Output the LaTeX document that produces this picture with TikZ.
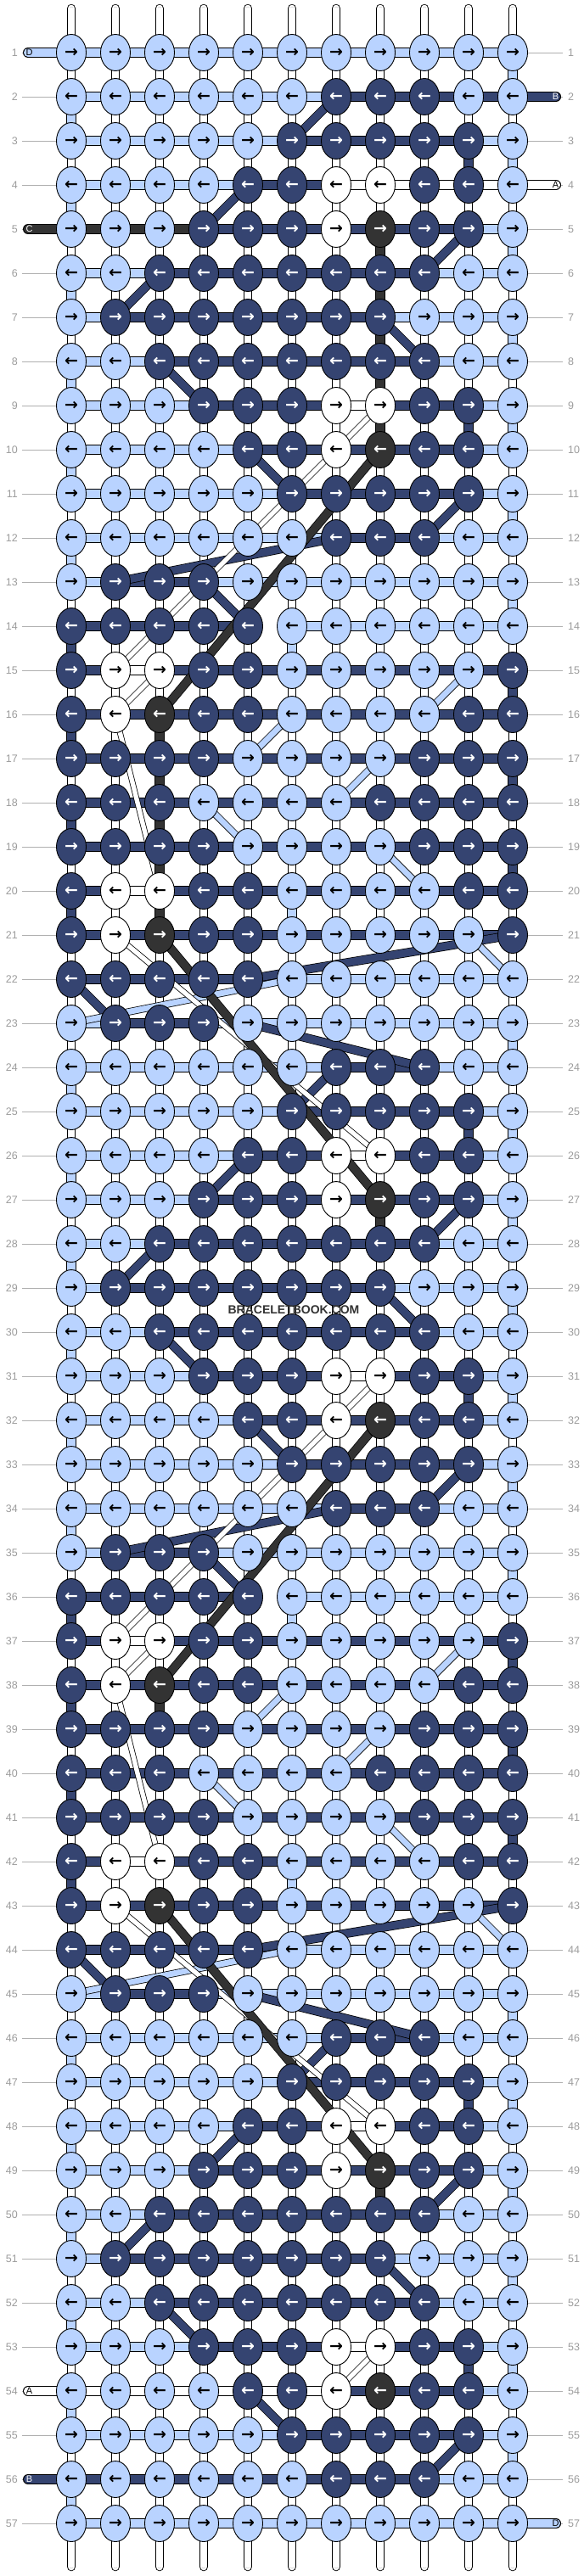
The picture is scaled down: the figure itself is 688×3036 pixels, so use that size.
\documentclass[tikz,border=0pt]{standalone}
\usepackage{fontspec}
\setmainfont{Liberation Sans}
\newfontfamily\arrowfont{DejaVu Sans}
\usetikzlibrary{shapes.geometric}

\definecolor{knotL}{HTML}{B9D3FF}
\definecolor{knotN}{HTML}{354471}
\definecolor{knotW}{HTML}{FFFFFF}
\definecolor{knotC}{HTML}{333333}
\colorlet{txtL}{black}
\colorlet{txtN}{white}
\colorlet{txtW}{black}
\colorlet{txtC}{white}
\definecolor{rowgray}{HTML}{9C9C9C}

\pgfdeclarelayer{warp}
\pgfdeclarelayer{strings}
\pgfsetlayers{warp,strings,main}

\tikzset{
  knotbox/.style={ellipse, draw=black, line width=0.9pt, minimum width=35pt,
    minimum height=43pt, inner sep=0pt,
    font={\arrowfont\bfseries\fontsize{19}{19}\selectfont}},
  barline/.style={draw=black, line width=12pt, postaction={draw=knot#1, line width=10pt}},
  diagline/.style={draw=black, line width=10.5pt, postaction={draw=knot#1, line width=9pt}},
  lightline/.style={draw=black, line width=8.5pt, postaction={draw=knotL, line width=7pt}},
  whitestrand/.style={draw=black, line width=7pt, postaction={draw=white, line width=5.4pt}},
  warptube/.style={draw=black, line width=10.5pt, line cap=round,
    postaction={draw=white, line width=8.7pt},
    postaction={draw=gray!45, line width=4.6pt},
    postaction={draw=white, line width=3.2pt}},
  rownum/.style={text=rowgray, font=\fontsize{12.5}{12.5}\selectfont, inner sep=0pt},
  rowline/.style={draw=rowgray!80, line width=0.9pt},
  tagtext/.style={font=\fontsize{11}{11}\selectfont, inner sep=0pt}
}

\def\nobar{X}
% one row: number, knot colours, colours of the strands between knots
\newcommand{\knotrow}[3]{%
  \foreach \k [count=\c] in {#2}{%
    \node[knotbox, fill=knot\k, text=txt\k] (k-#1-\c) at ({84+52*(\c-1)},{62+52*(#1-1)}) {\ifodd#1 →\else ←\fi};
  }%
  \begin{pgfonlayer}{strings}
  \foreach \b [count=\c] in {#3}{%
    \pgfmathtruncatemacro\n{\c+1}%
    \ifx\b\nobar\else\draw[barline=\b] (k-#1-\c.center) -- (k-#1-\n.center);\fi
  }%
  \end{pgfonlayer}
}

\begin{document}
\begin{tikzpicture}[x=1pt, y=-1pt]

\useasboundingbox (0,0) rectangle (688,3036);
\begin{pgfonlayer}{warp}
\fill[white] (0,0) rectangle (688,3036);
\foreach \c in {1,...,11}{
  \coordinate (wt-\c) at ({84+52*(\c-1)},10);
  \coordinate (wb-\c) at ({84+52*(\c-1)},3025);
  \draw[warptube] (wt-\c) -- (wb-\c);
}
\end{pgfonlayer}

% knots
\knotrow{1}{L,L,L,L,L,L,L,L,L,L,L}{L,L,L,L,L,L,L,L,L,L}
\knotrow{2}{L,L,L,L,L,L,N,N,N,L,L}{L,L,L,L,L,L,N,N,N,N}
\knotrow{3}{L,L,L,L,L,N,N,N,N,N,L}{L,L,L,L,L,N,N,N,N,L}
\knotrow{4}{L,L,L,L,N,N,W,W,N,N,L}{L,L,L,L,N,N,W,W,W,W}
\knotrow{5}{L,L,L,N,N,N,W,C,N,N,L}{C,C,C,N,N,N,N,N,N,L}
\knotrow{6}{L,L,N,N,N,N,N,N,N,L,L}{L,L,N,N,N,N,N,N,L,L}
\knotrow{7}{L,N,N,N,N,N,N,N,L,L,L}{L,N,N,N,N,N,N,L,L,L}
\knotrow{8}{L,L,N,N,N,N,N,N,N,L,L}{L,L,N,N,N,N,N,N,L,L}
\knotrow{9}{L,L,L,N,N,N,W,W,N,N,L}{L,L,L,N,N,N,W,N,N,L}
\knotrow{10}{L,L,L,L,N,N,W,C,N,N,L}{L,L,L,L,N,N,N,N,N,L}
\knotrow{11}{L,L,L,L,L,N,N,N,N,N,L}{L,L,L,L,L,N,N,N,N,L}
\knotrow{12}{L,L,L,L,L,L,N,N,N,L,L}{L,L,L,L,L,L,N,N,L,L}
\knotrow{13}{L,N,N,N,L,L,L,L,L,L,L}{L,N,N,L,L,L,L,L,L,L}
\knotrow{14}{N,N,N,N,N,L,L,L,L,L,L}{N,N,N,N,X,L,L,L,L,L}
\knotrow{15}{N,W,W,N,N,L,L,L,L,L,N}{N,W,N,N,N,N,N,N,N,N}
\knotrow{16}{N,W,C,N,N,L,L,L,L,N,N}{N,N,N,N,N,N,N,N,N,N}
\knotrow{17}{N,N,N,N,L,L,L,L,N,N,N}{N,N,N,N,N,N,N,N,N,N}
\knotrow{18}{N,N,N,L,L,L,L,N,N,N,N}{N,N,N,N,N,N,N,N,N,N}
\knotrow{19}{N,N,N,N,L,L,L,L,N,N,N}{N,N,N,N,N,N,N,N,N,N}
\knotrow{20}{N,W,W,N,N,L,L,L,L,N,N}{N,W,N,N,N,N,N,N,N,N}
\knotrow{21}{N,W,C,N,N,L,L,L,L,L,N}{N,N,N,N,N,N,N,N,N,N}
\knotrow{22}{N,N,N,N,N,L,L,L,L,L,L}{N,N,N,N,N,L,L,L,L,L}
\knotrow{23}{L,N,N,N,L,L,L,L,L,L,L}{L,N,N,L,L,L,L,L,L,L}
\knotrow{24}{L,L,L,L,L,L,N,N,N,L,L}{L,L,L,L,L,L,N,N,L,L}
\knotrow{25}{L,L,L,L,L,N,N,N,N,N,L}{L,L,L,L,L,N,N,N,N,L}
\knotrow{26}{L,L,L,L,N,N,W,W,N,N,L}{L,L,L,L,N,N,W,N,N,L}
\knotrow{27}{L,L,L,N,N,N,W,C,N,N,L}{L,L,L,N,N,N,N,N,N,L}
\knotrow{28}{L,L,N,N,N,N,N,N,N,L,L}{L,L,N,N,N,N,N,N,L,L}
\knotrow{29}{L,N,N,N,N,N,N,N,L,L,L}{L,N,N,N,N,N,N,L,L,L}
\knotrow{30}{L,L,N,N,N,N,N,N,N,L,L}{L,L,N,N,N,N,N,N,L,L}
\knotrow{31}{L,L,L,N,N,N,W,W,N,N,L}{L,L,L,N,N,N,W,N,N,L}
\knotrow{32}{L,L,L,L,N,N,W,C,N,N,L}{L,L,L,L,N,N,N,N,N,L}
\knotrow{33}{L,L,L,L,L,N,N,N,N,N,L}{L,L,L,L,L,N,N,N,N,L}
\knotrow{34}{L,L,L,L,L,L,N,N,N,L,L}{L,L,L,L,L,L,N,N,L,L}
\knotrow{35}{L,N,N,N,L,L,L,L,L,L,L}{L,N,N,L,L,L,L,L,L,L}
\knotrow{36}{N,N,N,N,N,L,L,L,L,L,L}{N,N,N,N,X,L,L,L,L,L}
\knotrow{37}{N,W,W,N,N,L,L,L,L,L,N}{N,W,N,N,N,N,N,N,N,N}
\knotrow{38}{N,W,C,N,N,L,L,L,L,N,N}{N,N,N,N,N,N,N,N,N,N}
\knotrow{39}{N,N,N,N,L,L,L,L,N,N,N}{N,N,N,N,N,N,N,N,N,N}
\knotrow{40}{N,N,N,L,L,L,L,N,N,N,N}{N,N,N,N,N,N,N,N,N,N}
\knotrow{41}{N,N,N,N,L,L,L,L,N,N,N}{N,N,N,N,N,N,N,N,N,N}
\knotrow{42}{N,W,W,N,N,L,L,L,L,N,N}{N,W,N,N,N,N,N,N,N,N}
\knotrow{43}{N,W,C,N,N,L,L,L,L,L,N}{N,N,N,N,N,N,N,N,N,N}
\knotrow{44}{N,N,N,N,N,L,L,L,L,L,L}{N,N,N,N,N,L,L,L,L,L}
\knotrow{45}{L,N,N,N,L,L,L,L,L,L,L}{L,N,N,L,L,L,L,L,L,L}
\knotrow{46}{L,L,L,L,L,L,N,N,N,L,L}{L,L,L,L,L,L,N,N,L,L}
\knotrow{47}{L,L,L,L,L,N,N,N,N,N,L}{L,L,L,L,L,N,N,N,N,L}
\knotrow{48}{L,L,L,L,N,N,W,W,N,N,L}{L,L,L,L,N,N,W,N,N,L}
\knotrow{49}{L,L,L,N,N,N,W,C,N,N,L}{L,L,L,N,N,N,N,N,N,L}
\knotrow{50}{L,L,N,N,N,N,N,N,N,L,L}{L,L,N,N,N,N,N,N,L,L}
\knotrow{51}{L,N,N,N,N,N,N,N,L,L,L}{L,N,N,N,N,N,N,L,L,L}
\knotrow{52}{L,L,N,N,N,N,N,N,N,L,L}{L,L,N,N,N,N,N,N,L,L}
\knotrow{53}{L,L,L,N,N,N,W,W,N,N,L}{L,L,L,N,N,N,W,N,N,L}
\knotrow{54}{L,L,L,L,N,N,W,C,N,N,L}{W,W,W,W,W,W,N,N,N,L}
\knotrow{55}{L,L,L,L,L,N,N,N,N,N,L}{L,L,L,L,L,N,N,N,N,L}
\knotrow{56}{L,L,L,L,L,L,N,N,N,L,L}{N,N,N,N,N,N,N,N,L,L}
\knotrow{57}{L,L,L,L,L,L,L,L,L,L,L}{L,L,L,L,L,L,L,L,L,L}

% row numbers
\foreach \r in {1,...,57}{
  \node[rownum, anchor=east] (ln-\r) at (21,{62+52*(\r-1)}) {\r};
  \node[rownum, anchor=west] (rn-\r) at (669,{62+52*(\r-1)}) {\r};
  \begin{pgfonlayer}{warp}
  \draw[rowline] ([xshift=5pt]ln-\r.east) -- (k-\r-1.center);
  \draw[rowline] ([xshift=-6pt]rn-\r.west) -- (k-\r-11.center);
  \end{pgfonlayer}
}

\begin{pgfonlayer}{strings}
% turns at the row ends
\foreach \r [evaluate=\r as \s using int(\r+1)] in {1,3,...,13,23,25,...,35,45,47,...,55}
  \draw[barline=L] (k-\r-11.center) -- (k-\s-11.center);
\foreach \r [evaluate=\r as \s using int(\r+1)] in {2,4,...,12,24,26,...,34,46,48,...,56}
  \draw[barline=L] (k-\r-1.center) -- (k-\s-1.center);
\foreach \r [evaluate=\r as \s using int(\r+1)] in {15,17,19,37,39,41}
  \draw[barline=N] (k-\r-11.center) -- (k-\s-11.center);
\foreach \r [evaluate=\r as \s using int(\r+1)] in {14,16,18,20,36,38,40,42}
  \draw[barline=N] (k-\r-1.center) -- (k-\s-1.center);

% straight drops inside the band
\foreach \r/\c [evaluate=\r as \s using int(\r+1)] in {3/10,9/10,25/10,31/10,47/10,53/10}
  \draw[barline=N] (k-\r-\c.center) -- (k-\s-\c.center);
\foreach \r/\c [evaluate=\r as \s using int(\r+1)] in {14/6,20/6,36/6,42/6}
  \draw[barline=L] (k-\r-\c.center) -- (k-\s-\c.center);

% navy strand moving between rows
\foreach \ra/\ca/\rb/\cb in {2/7/3/6, 4/5/5/4, 5/10/6/9, 6/3/7/2, 7/8/8/9, 8/3/9/4,
    10/5/11/6, 11/10/12/9, 12/7/13/2, 13/4/14/5, 21/11/22/5, 22/1/23/2, 23/5/24/9,
    24/7/25/6, 26/5/27/4, 27/10/28/9, 28/3/29/2, 29/8/30/9, 30/3/31/4, 32/5/33/6,
    33/10/34/9, 34/7/35/2, 35/4/36/5, 43/11/44/5, 44/1/45/2, 45/5/46/9, 46/7/47/6,
    48/5/49/4, 49/10/50/9, 50/3/51/2, 51/8/52/9, 52/3/53/4, 54/5/55/6, 55/10/56/9}
  \draw[diagline=N] (k-\ra-\ca.center) -- (k-\rb-\cb.center);

% light strand moving between rows
\foreach \ra/\ca/\rb/\cb in {15/10/16/9, 16/6/17/5, 17/8/18/7, 18/4/19/5, 19/8/20/9,
    21/10/22/11, 22/6/23/1, 37/10/38/9, 38/6/39/5, 39/8/40/7, 40/4/41/5, 41/8/42/9,
    43/10/44/11, 44/6/45/1}
  \draw[lightline] (k-\ra-\ca.center) -- (k-\rb-\cb.center);

% white strand
\foreach \ra/\ca/\rb/\cb in {9/8/10/7, 10/7/15/2, 15/3/16/2, 16/2/20/3, 21/2/26/8,
    31/8/32/7, 32/7/37/2, 37/3/38/2, 38/2/42/3, 43/2/48/8, 53/8/54/7}
  \draw[whitestrand] (k-\ra-\ca.center) -- (k-\rb-\cb.center);

% grey strand
\foreach \r [evaluate=\r as \s using int(\r+1)] in {5,...,9,27,...,31,49,...,53}
  \draw[barline=C] (k-\r-8.center) -- (k-\s-8.center);
\foreach \r [evaluate=\r as \s using int(\r+1)] in {16,...,20,38,...,42}
  \draw[barline=C] (k-\r-3.center) -- (k-\s-3.center);
\foreach \ra/\ca/\rb/\cb in {10/8/16/3, 21/3/27/8, 32/8/38/3, 43/3/49/8}
  \draw[diagline=C] (k-\ra-\ca.center) -- (k-\rb-\cb.center);

% loose ends
\coordinate (end-D1) at (33,62);
\coordinate (end-C5) at (33,270);
\coordinate (end-A54) at (33,2818);
\coordinate (end-B56) at (33,2922);
\coordinate (end-B2) at (655,114);
\coordinate (end-A4) at (655,218);
\coordinate (end-D57) at (655,2974);
\draw[barline=L, line cap=round] (end-D1) -- (k-1-1.center);
\draw[barline=C, line cap=round] (end-C5) -- (k-5-1.center);
\draw[barline=W, line cap=round] (end-A54) -- (k-54-1.center);
\draw[barline=N, line cap=round] (end-B56) -- (k-56-1.center);
\draw[barline=N, line cap=round] (end-B2) -- (k-2-11.center);
\draw[barline=W, line cap=round] (end-A4) -- (k-4-11.center);
\draw[barline=L, line cap=round] (end-D57) -- (k-57-11.center);
\end{pgfonlayer}

\node[tagtext, text=black] (tag-D1) at (34.5,62) {D};
\node[tagtext, text=white] (tag-C5) at (34.5,270) {C};
\node[tagtext, text=black] (tag-A54) at (34.5,2818) {A};
\node[tagtext, text=white] (tag-B56) at (34.5,2922) {B};
\node[tagtext, text=white] (tag-B2) at (654.5,114) {B};
\node[tagtext, text=black] (tag-A4) at (654.5,218) {A};
\node[tagtext, text=black] (tag-D57) at (654.5,2974) {D};

\node[text=knotC, inner sep=0pt, font={\bfseries\fontsize{14}{14}\selectfont}] (mark) at (346,1544) {BRACELETBOOK.COM};

\end{tikzpicture}
\end{document}
